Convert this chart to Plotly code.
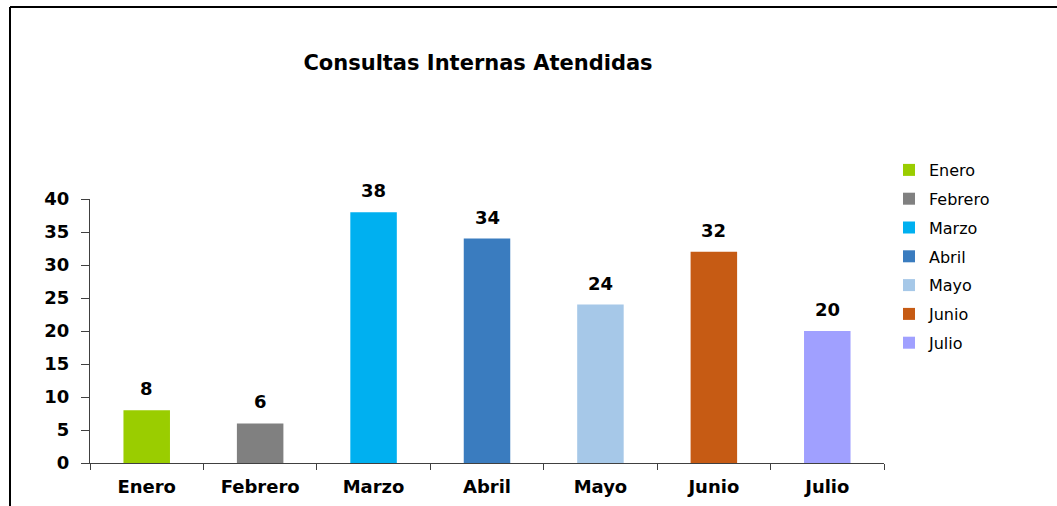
import plotly.graph_objects as go

months = ["Enero", "Febrero", "Marzo", "Abril", "Mayo", "Junio", "Julio"]
values = [8, 6, 38, 34, 24, 32, 20]
colors = ["#9ACD00", "#808080", "#00B0F0", "#3A7CBF", "#A6C8E8", "#C65B14", "#A0A0FF"]
y_ticks = [0, 5, 10, 15, 20, 25, 30, 35, 40]
title_text = "Consultas Internas Atendidas"

FONT = "DejaVu Sans"
W, H = 1057, 506
L, R, T, B = 90, 884, 199, 463

fig = go.Figure()
for i, (m, v, c) in enumerate(zip(months, values, colors)):
    fig.add_trace(go.Bar(
        x=[m], y=[v], name=m, width=0.41,
        marker=dict(color=c, line=dict(width=0)),
        legendgroup=m, showlegend=True,
    ))
    fig.add_annotation(x=m, y=v, text=f"<b>{v}</b>", showarrow=False,
                       yanchor="bottom", yshift=9,
                       font=dict(family=FONT, size=18, color="#000000"))

pw, ph = R - L, B - T
def px(x):
    return (x - L) / pw
def py(y):
    return (B - y) / ph

fig.add_shape(type="line", xref="paper", yref="paper",
              x0=px(10), x1=px(10), y0=py(7), y1=py(510),
              line=dict(color="black", width=2))
fig.add_shape(type="line", xref="paper", yref="paper",
              x0=px(10), x1=px(1060), y0=py(7), y1=py(7),
              line=dict(color="black", width=2))

fig.update_layout(
    width=W, height=H,
    margin=dict(l=L, r=W - R, t=T, b=H - B, autoexpand=False),
    paper_bgcolor="white", plot_bgcolor="white",
    barmode="overlay",
    title=dict(text=f"<b>{title_text}</b>", x=478 / W, xanchor="center",
               y=1 - 63 / H, yanchor="middle",
               font=dict(family=FONT, size=21, color="#000000")),
    font=dict(family=FONT, color="#000000"),
    xaxis=dict(
        categoryorder="array", categoryarray=months,
        showline=True, linecolor="#404040", linewidth=1,
        ticks="outside", tickson="boundaries", ticklen=6, tickcolor="#404040",
        tickfont=dict(family=FONT, size=18, color="#000000", weight="bold"),
        ticklabelstandoff=7, automargin=False,
        showgrid=False, zeroline=False, fixedrange=True,
    ),
    yaxis=dict(
        range=[0, 40], tickvals=y_ticks,
        showline=True, linecolor="#404040", linewidth=1,
        ticks="outside", ticklen=8, tickcolor="#404040",
        tickfont=dict(family=FONT, size=18, color="#000000", weight="bold"),
        ticklabelstandoff=8, automargin=False,
        showgrid=False, zeroline=False, fixedrange=True,
    ),
    legend=dict(
        x=889 / W, xref="container", y=1 - 153 / H, yref="container",
        xanchor="left", yanchor="top",
        font=dict(family=FONT, size=16, color="#000000"),
        tracegroupgap=5, itemwidth=30, bgcolor="rgba(0,0,0,0)",
    ),
)

fig.write_html("out.html", config={"displayModeBar": False},
               post_script="document.body.style.margin='0';")
